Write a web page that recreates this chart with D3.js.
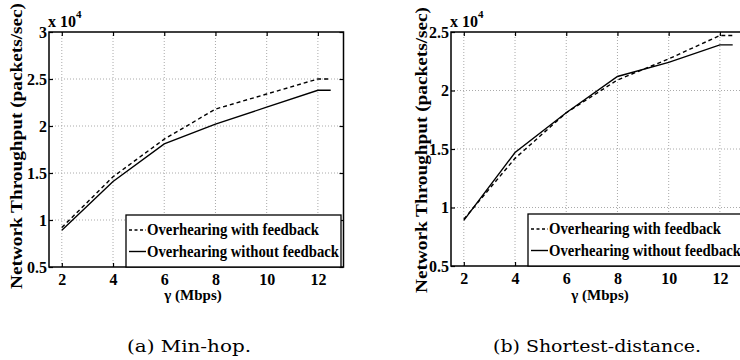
<!doctype html>
<html lang="en">
<head>
<meta charset="UTF-8">
<title>Network Throughput vs gamma</title>
<style>
    body { margin: 0; background: #fff; }
</style>
</head>
<body>
<svg id="fig" width="740" height="360"></svg>
<script src="https://cdn.jsdelivr.net/npm/d3@7"></script>
<script>
    // gamma (Mbps); last point is the flat tail drawn past 12
    const gammaMbps = [2, 4, 6, 8, 10, 12, 12.5];
    const xTicks = [2, 4, 6, 8, 10, 12];

    // throughput in units of 10^4 packets/sec
    const minHopWithFb = [0.92, 1.46, 1.86, 2.18, 2.34, 2.50, 2.50];
    const minHopWithoutFb = [0.89, 1.41, 1.81, 2.02, 2.20, 2.38, 2.38];
    const shortestWithFb = [0.90, 1.42, 1.81, 2.09, 2.27, 2.47, 2.47];
    const shortestWithoutFb = [0.89, 1.47, 1.81, 2.12, 2.24, 2.39, 2.39];

    const yTicksA = [0.5, 1, 1.5, 2, 2.5, 3];
    const yTicksB = [0.5, 1, 1.5, 2, 2.5];
    const legendNames = ["Overhearing with feedback", "Overhearing without feedback"];
    const captions = ["(a) Min-hop.", "(b) Shortest-distance."];

    const SERIF = "'Liberation Serif'";
    const CAPTION_FONT = "'DejaVu Serif'";

    const svg = d3.select("#fig");

    function panel(opt) {
        let g = svg.append("g");
        let x = d3.scaleLinear().domain([1.5, 13]).range([opt.left, opt.left + 294.5]);
        let y = d3.scaleLinear().domain([0.5, opt.yMax]).range([opt.bottom, 32]);

        // dotted grid
        g.append("g").selectAll("line").data(xTicks).enter().append("line")
            .attr("x1", d => x(d)).attr("x2", d => x(d))
            .attr("y1", y.range()[0]).attr("y2", y.range()[1])
            .attr("stroke", "#aaa").attr("stroke-dasharray", "1,2");
        g.append("g").selectAll("line").data(opt.yTicks.slice(1, -1)).enter().append("line")
            .attr("x1", x.range()[0]).attr("x2", x.range()[1])
            .attr("y1", d => y(d)).attr("y2", d => y(d))
            .attr("stroke", "#aaa").attr("stroke-dasharray", "1,2");

        // axes, ticks pointing inward
        g.append("g").attr("transform", "translate(0," + opt.bottom + ")")
            .call(d3.axisBottom(x).tickValues(xTicks).tickSizeInner(-4).tickSizeOuter(0).tickPadding(7))
            .call(a => a.select(".domain").remove())
            .attr("font-size", "16px").attr("font-family", SERIF).attr("font-weight", "bold");
        g.append("g").attr("transform", "translate(0,32)")
            .call(d3.axisTop(x).tickValues(xTicks).tickSizeInner(-4).tickSizeOuter(0).tickFormat(""))
            .call(a => a.select(".domain").remove());
        g.append("g").attr("transform", "translate(" + opt.left + ",0)")
            .call(d3.axisLeft(y).tickValues(opt.yTicks).tickSizeInner(-4).tickSizeOuter(0).tickPadding(2)
                .tickFormat(d3.format("~g")))
            .call(a => a.select(".domain").remove())
            .attr("font-size", "16px").attr("font-family", SERIF).attr("font-weight", "bold");
        g.append("g").attr("transform", "translate(" + x.range()[1] + ",0)")
            .call(d3.axisRight(y).tickValues(opt.yTicks).tickSizeInner(-4).tickSizeOuter(0).tickFormat(""))
            .call(a => a.select(".domain").remove());
        g.selectAll(".tick line").attr("stroke-width", 1.2);

        g.append("rect")
            .attr("x", x.range()[0]).attr("y", 32)
            .attr("width", x.range()[1] - x.range()[0]).attr("height", opt.bottom - 32)
            .attr("fill", "none").attr("stroke", "#000").attr("stroke-width", 1.5);

        // series
        let line = d3.line().x(d => x(d[0])).y(d => y(d[1]));
        g.append("path").datum(d3.zip(gammaMbps, opt.withFb)).attr("d", line)
            .attr("fill", "none").attr("stroke", "#000").attr("stroke-width", 1.4)
            .attr("stroke-dasharray", "4,3");
        g.append("path").datum(d3.zip(gammaMbps, opt.withoutFb)).attr("d", line)
            .attr("fill", "none").attr("stroke", "#000").attr("stroke-width", 1.4);

        // exponent
        let ex = g.append("text").attr("x", opt.left - 1).attr("y", 27)
            .attr("font-family", SERIF).attr("font-weight", "bold").attr("font-size", "16px");
        ex.append("tspan").text("x 10");
        ex.append("tspan").attr("dy", -9).attr("font-size", "11px").text("4");

        // axis titles
        g.append("text")
            .attr("transform", "translate(" + opt.yLabelX + "," + opt.yLabelY + ") rotate(-90)")
            .attr("text-anchor", "middle")
            .attr("font-family", SERIF).attr("font-weight", "bold").attr("font-size", "17px")
            .attr("textLength", 286).attr("lengthAdjust", "spacingAndGlyphs")
            .text("Network Throughput (packets/sec)");
        g.append("text")
            .attr("x", opt.xLabelX).attr("y", 300)
            .attr("text-anchor", "middle")
            .attr("font-family", SERIF).attr("font-weight", "bold").attr("font-size", "15px")
            .text("γ (Mbps)");

        // legend
        let lg = g.append("g").attr("transform", "translate(" + opt.legX + "," + opt.legY + ")");
        lg.append("rect").attr("width", 215).attr("height", opt.bottom - opt.legY)
            .attr("fill", "#fff").attr("stroke", "#000").attr("stroke-width", 1.3);
        legendNames.forEach(function (name, i) {
            let ly = 15 + i * 21.5;
            lg.append("line").attr("x1", 3).attr("x2", 20).attr("y1", ly).attr("y2", ly)
                .attr("stroke", "#000").attr("stroke-width", 1.4)
                .attr("stroke-dasharray", i === 0 ? "3,2.5" : null);
            lg.append("text").attr("x", 21).attr("y", ly + 5)
                .attr("font-family", SERIF).attr("font-weight", "bold").attr("font-size", "16px")
                .attr("textLength", i === 0 ? 172 : 192).attr("lengthAdjust", "spacingAndGlyphs")
                .text(name);
        });

        svg.append("text")
            .attr("x", opt.capX).attr("y", 352)
            .attr("font-family", CAPTION_FONT).attr("font-size", "16px")
            .attr("textLength", opt.capW).attr("lengthAdjust", "spacingAndGlyphs")
            .text(opt.caption);
    }

    panel({
        left: 49, bottom: 267, yMax: 3, yTicks: yTicksA,
        withFb: minHopWithFb, withoutFb: minHopWithoutFb,
        yLabelX: 22, yLabelY: 146, xLabelX: 193,
        legX: 126, legY: 215, capX: 127, capW: 124, caption: captions[0]
    });
    panel({
        left: 451, bottom: 266, yMax: 2.5, yTicks: yTicksB,
        withFb: shortestWithFb, withoutFb: shortestWithoutFb,
        yLabelX: 427, yLabelY: 150, xLabelX: 600,
        legX: 528, legY: 214, capX: 493, capW: 208, caption: captions[1]
    });
</script>
</body>
</html>
